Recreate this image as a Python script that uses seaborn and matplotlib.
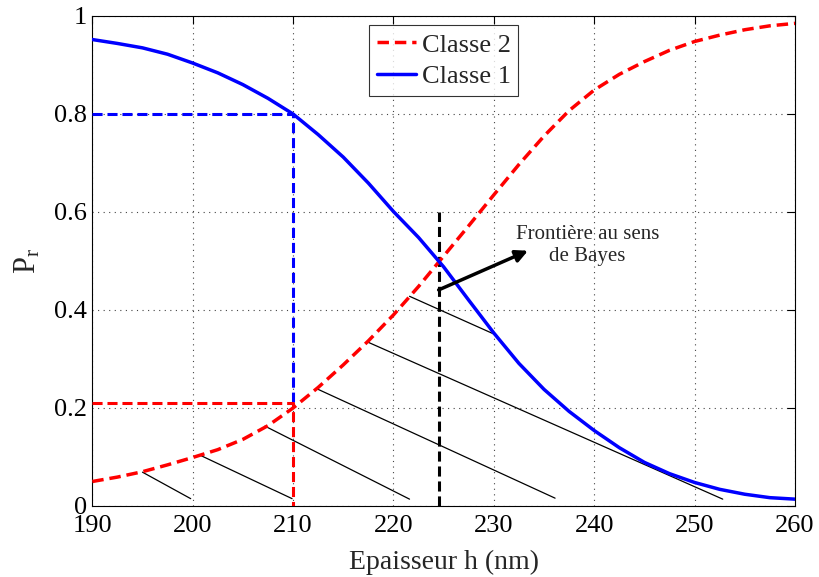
import numpy as np
import pandas as pd
import matplotlib
matplotlib.use('Agg')
import matplotlib.pyplot as plt
import seaborn as sns

# Values
h = [190, 192.5, 195, 197.5, 200, 202.5, 205, 207.5, 210, 212.5, 215, 217.5, 220,
     222.5, 225, 227.5, 230, 232.5, 235, 237.5, 240, 242.5, 245, 247.5, 250,
     252.5, 255, 257.5, 260]
p_classe1 = [0.951, 0.943, 0.934, 0.921, 0.903, 0.883, 0.859, 0.831, 0.799, 0.757,
             0.711, 0.658, 0.600, 0.547, 0.487, 0.419, 0.352, 0.290, 0.237, 0.192,
             0.153, 0.118, 0.088, 0.065, 0.047, 0.033, 0.023, 0.016, 0.013]
p_classe2 = [0.049, 0.058, 0.069, 0.083, 0.098, 0.114, 0.135, 0.163, 0.199, 0.241,
             0.287, 0.336, 0.389, 0.447, 0.509, 0.571, 0.634, 0.696, 0.754, 0.806,
             0.848, 0.880, 0.906, 0.929, 0.947, 0.960, 0.971, 0.979, 0.984]

# decision threshold at h = 210 and Bayes boundary
seuil_h = 210
seuil_p1 = 0.80
seuil_p2 = 0.21
bayes_h = 224.5
bayes_top = 0.6

# thin hatching segments (start / end)
hatch_x0 = [195.0, 200.6, 207.2, 212.5, 217.5, 221.6]
hatch_y0 = [0.068, 0.104, 0.162, 0.237, 0.333, 0.427]
hatch_x1 = [199.8, 209.9, 221.6, 236.1, 252.8, 230.0]
hatch_y1 = [0.014, 0.014, 0.013, 0.015, 0.013, 0.350]

# annotation arrow
arrow_start = (224.5, 0.44)
arrow_end = (233.4, 0.52)
note_pos = (239.3, 0.53)

xticks = [190, 200, 210, 220, 230, 240, 250, 260]
yticks = [0, 0.2, 0.4, 0.6, 0.8, 1.0]
ytick_labels = ['0', '0.2', '0.4', '0.6', '0.8', '1']

sns.set_style('white')
plt.rcParams['font.family'] = ['Liberation Serif', 'DejaVu Serif']
plt.rcParams['mathtext.fontset'] = 'custom'
plt.rcParams['mathtext.rm'] = 'Liberation Serif'

df = pd.DataFrame({'h': h, 'Classe 1': p_classe1, 'Classe 2': p_classe2})

fig = plt.figure(figsize=(8.19, 5.77), dpi=100)
ax = fig.add_axes([0.1127, 0.1239, 0.858, 0.8492])

# hatching
for x0, y0, x1, y1 in zip(hatch_x0, hatch_y0, hatch_x1, hatch_y1):
    ax.plot([x0, x1], [y0, y1], color='black', lw=0.9, zorder=2)

# decision lines
ax.plot([h[0], seuil_h, seuil_h], [seuil_p1, seuil_p1, seuil_p2], color='blue',
        lw=2.2, dashes=(3.3, 1.6), zorder=3)
ax.plot([h[0], seuil_h, seuil_h], [seuil_p2, seuil_p2, 0], color='red',
        lw=2.2, dashes=(3.3, 1.6), zorder=3)
ax.plot([bayes_h, bayes_h], [0, bayes_top], color='black', lw=2.2,
        dashes=(3.3, 1.6), zorder=3)

# curves
sns.lineplot(data=df, x='h', y='Classe 2', ax=ax, color='red', lw=2.5,
             dashes=False, label='Classe 2', zorder=4)
ax.lines[-1].set_dashes((3.3, 1.7))
sns.lineplot(data=df, x='h', y='Classe 1', ax=ax, color='blue', lw=2.5,
             label='Classe 1', zorder=4)

ax.annotate('', xy=arrow_end, xytext=arrow_start,
            arrowprops=dict(arrowstyle='-|>', lw=2.5, color='black',
                            mutation_scale=18, shrinkA=0, shrinkB=0), zorder=5)
ax.text(note_pos[0], note_pos[1], 'Frontière au sens\nde Bayes', ha='center',
        va='center', fontsize=15)

ax.set_xlim(190, 260)
ax.set_ylim(0, 1)
ax.set_xticks(xticks)
ax.set_yticks(yticks)
ax.set_yticklabels(ytick_labels)
ax.tick_params(direction='in', length=6, width=0.8, top=True, right=True,
               labelsize=19, pad=4, colors='black')
ax.tick_params(axis='x', pad=7)
ax.grid(True, linestyle=(0, (1, 4)), color='#444444', lw=0.8)
for s in ax.spines.values():
    s.set_color('black')
    s.set_linewidth(0.8)

ax.set_xlabel('Epaisseur h (nm)', fontsize=20, labelpad=9)
ax.set_ylabel(r'$\mathregular{P_r}$', fontsize=22, labelpad=8)

leg = ax.legend(loc='upper center', bbox_to_anchor=(0.5, 0.98), fontsize=19,
                frameon=True, fancybox=False, edgecolor='black',
                handlelength=1.5, handletextpad=0.2, borderpad=0.3,
                labelspacing=0.3, borderaxespad=0)
leg.get_frame().set_linewidth(0.8)

fig.savefig('out.png', dpi=100)
